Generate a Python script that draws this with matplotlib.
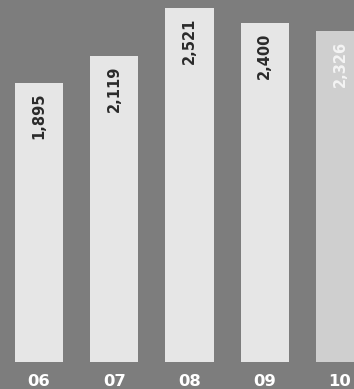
import matplotlib
matplotlib.use("Agg")
import matplotlib.pyplot as plt

categories = ["06", "07", "08", "09", "10"]
values = [1895, 2119, 2521, 2400, 2326]
value_labels = ["1,895", "2,119", "2,521", "2,400", "2,326"]

base = -434
bg = "#7d7d7d"
bar_colors = ["#e6e6e6", "#e6e6e6", "#e6e6e6", "#e6e6e6", "#cfcfcf"]
text_colors = ["#2a2a2a", "#2a2a2a", "#2a2a2a", "#2a2a2a", "#f4f4f4"]

fig = plt.figure(figsize=(3.54, 3.89), dpi=100)
fig.patch.set_facecolor(bg)
ax = fig.add_axes([0, 27/389, 1, 362/389])
ax.set_facecolor(bg)

xs = list(range(len(categories)))
heights = [v - base for v in values]
ax.bar(xs, heights, bottom=base, width=0.64, color=bar_colors, edgecolor="none")

ax.set_xlim(-0.518, 4.186)
ax.set_ylim(base, 2588)
ax.axis("off")

for x, v, lab, tc in zip(xs, values, value_labels, text_colors):
    ax.annotate(lab, (x, v), xytext=(0, -7), textcoords="offset points",
                rotation=90, ha="center", va="top", fontsize=10.5,
                fontweight="bold", color=tc)

for x, c in zip(xs, categories):
    ax.annotate(c, (x, base), xytext=(0, -17), textcoords="offset points",
                ha="center", va="baseline", fontsize=11.8, fontweight="bold",
                color="white", annotation_clip=False)

fig.savefig("out.png", dpi=100, facecolor=bg)
